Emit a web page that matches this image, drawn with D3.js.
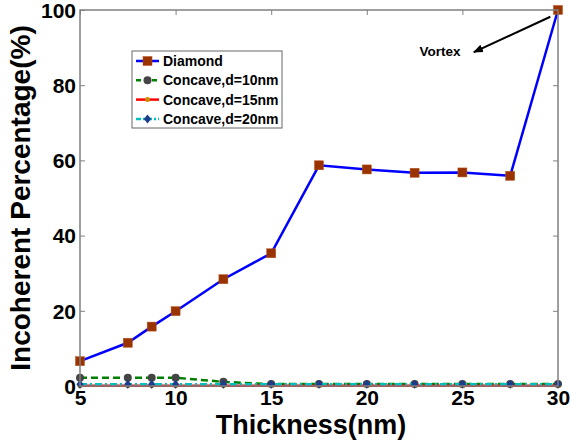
<!DOCTYPE html>
<html>
<head>
<meta charset="utf-8">
<script src="https://cdn.jsdelivr.net/npm/d3@7"></script>
<style>
  body { margin: 0; background: #fff; }
  svg { display: block; font-family: "Liberation Sans", Arial, sans-serif; }
</style>
</head>
<body>
<div id="chart"></div>
<script>
// thickness (nm) and incoherent percentage for each structure
const thickness = [5, 7.5, 8.75, 10, 12.5, 15, 17.5, 20, 22.5, 25, 27.5, 30];
const diamond   = [6.6, 11.5, 15.8, 19.9, 28.4, 35.3, 58.7, 57.6, 56.7, 56.8, 55.9, 100];
const concave10 = [2.2, 2.2, 2.2, 2.2, 1.1, 0.5, 0.5, 0.5, 0.5, 0.5, 0.5, 0.5];
const concave15 = [0.05, 0.05, 0.05, 0.05, 0.05, 0.05, 0.05, 0.05, 0.05, 0.05, 0.05, 0.05];
const concave20 = [0.45, 0.45, 0.45, 0.45, 0.45, 0.45, 0.45, 0.45, 0.45, 0.45, 0.45, 0.45];

const xTicks = [5, 10, 15, 20, 25, 30];
const yTicks = [0, 20, 40, 60, 80, 100];

const seriesNames = ["Diamond", "Concave,d=10nm", "Concave,d=15nm", "Concave,d=20nm"];

const W = 571, H = 442;
const margin = { top: 10, right: 13, bottom: 56, left: 80 };
const width = W - margin.left - margin.right,
      height = H - margin.top - margin.bottom;

const svg = d3.select("#chart").append("svg")
  .attr("width", W).attr("height", H);

const g = svg.append("g")
  .attr("transform", `translate(${margin.left},${margin.top})`);

const x = d3.scaleLinear().domain([5, 30]).range([0, width]);
const y = d3.scaleLinear().domain([0, 100]).range([height, 0]);

const styles = [
  { values: diamond,   line: "#0000ff", dash: null,      marker: "square",  fill: "#993300", size: 9 },
  { values: concave10, line: "#008000", dash: "7,4",     marker: "circle",  fill: "#454545", size: 8 },
  { values: concave15, line: "#ff0000", dash: null,      marker: "circle",  fill: "#cc8a00", size: 5 },
  { values: concave20, line: "#00bfbf", dash: "7,3,2,3", marker: "diamond", fill: "#1c3c8c", size: 9 }
];

// axes box (gray)
const axisColor = "#808080";
function styleAxis(sel) {
  sel.select(".domain").remove();
  sel.selectAll(".tick line").attr("stroke", axisColor);
}

g.append("g")
  .attr("transform", `translate(0,${height})`)
  .call(d3.axisBottom(x).tickValues(xTicks).tickSizeInner(-5).tickSizeOuter(0).tickPadding(4))
  .call(styleAxis)
  .selectAll("text")
  .attr("fill", "#000")
  .style("font-size", "21px")
  .style("font-weight", "bold");

g.append("g")
  .call(d3.axisLeft(y).tickValues(yTicks).tickSizeInner(-5).tickSizeOuter(0).tickPadding(4))
  .call(styleAxis)
  .selectAll("text")
  .attr("fill", "#000")
  .attr("dy", "0.35em")
  .style("font-size", "21px")
  .style("font-weight", "bold");

g.append("g")
  .call(d3.axisTop(x).tickValues(xTicks).tickSizeInner(-5).tickSizeOuter(0).tickFormat(""))
  .call(styleAxis);

g.append("g")
  .attr("transform", `translate(${width},0)`)
  .call(d3.axisRight(y).tickValues(yTicks).tickSizeInner(-5).tickSizeOuter(0).tickFormat(""))
  .call(styleAxis);

// series, later ones drawn on top
const line = d3.line().x(d => x(d[0])).y(d => y(d[1]));

function drawMarker(sel, s, cx, cy) {
  if (s.marker === "square") {
    sel.append("rect")
      .attr("x", cx - s.size / 2).attr("y", cy - s.size / 2)
      .attr("width", s.size).attr("height", s.size)
      .attr("fill", s.fill).attr("stroke", "#b8501e").attr("stroke-width", 0.5);
  } else if (s.marker === "circle") {
    sel.append("circle")
      .attr("cx", cx).attr("cy", cy).attr("r", s.size / 2)
      .attr("fill", s.fill);
  } else {
    const r = s.size / 2;
    sel.append("path")
      .attr("d", `M${cx},${cy - r}L${cx + r * 0.8},${cy}L${cx},${cy + r}L${cx - r * 0.8},${cy}Z`)
      .attr("fill", s.fill);
  }
}

styles.forEach(s => {
  const pts = thickness.map((t, j) => [t, s.values[j]]);
  g.append("path")
    .datum(pts)
    .attr("fill", "none")
    .attr("stroke", s.line)
    .attr("stroke-width", 2.5)
    .attr("stroke-dasharray", s.dash)
    .attr("d", line);
  const mg = g.append("g");
  pts.forEach(p => drawMarker(mg, s, x(p[0]), y(p[1])));
});

// box border
g.append("rect")
  .attr("width", width).attr("height", height)
  .attr("fill", "none").attr("stroke", axisColor).attr("stroke-width", 1.5);

// legend
const legend = svg.append("g").attr("transform", "translate(132,51)");
legend.append("rect")
  .attr("width", 150).attr("height", 77)
  .attr("fill", "#fff").attr("stroke", "#666").attr("stroke-width", 1);

seriesNames.forEach((name, i) => {
  const s = styles[i];
  const ly = 10 + i * 19.3;
  const row = legend.append("g");
  row.append("line")
    .attr("x1", 4).attr("x2", 27).attr("y1", ly).attr("y2", ly)
    .attr("stroke", s.line).attr("stroke-width", 2.5)
    .attr("stroke-dasharray", s.dash ? (i === 1 ? "5,3" : "5,2,2,2") : null);
  drawMarker(row, s, 15.5, ly);
  row.append("text")
    .attr("x", 31).attr("y", ly).attr("dy", "0.36em")
    .style("font-size", "14px").style("font-weight", "bold")
    .text(name);
});

// annotation
svg.append("defs").append("marker")
  .attr("id", "arrow")
  .attr("viewBox", "0 0 10 10")
  .attr("refX", 9).attr("refY", 5)
  .attr("markerWidth", 5).attr("markerHeight", 5)
  .attr("orient", "auto")
  .append("path").attr("d", "M0,1L10,5L0,9Z").attr("fill", "#000");

g.append("line")
  .attr("x1", x(29.6)).attr("y1", y(98.2))
  .attr("x2", x(25.6)).attr("y2", y(88.8))
  .attr("stroke", "#000").attr("stroke-width", 2)
  .attr("marker-end", "url(#arrow)");

g.append("text")
  .attr("x", x(24.9)).attr("y", y(89))
  .attr("dy", "0.36em")
  .attr("text-anchor", "end")
  .style("font-size", "13.5px").style("font-weight", "bold")
  .text("Vortex");

// axis titles
svg.append("text")
  .attr("x", 311).attr("y", 434)
  .attr("text-anchor", "middle")
  .style("font-size", "27px").style("font-weight", "bold")
  .text("Thickness(nm)");

svg.append("text")
  .attr("transform", "translate(30,198) rotate(-90)")
  .attr("text-anchor", "middle")
  .style("font-size", "28px").style("font-weight", "bold")
  .text("Incoherent Percentage(%)");
</script>
</body>
</html>
